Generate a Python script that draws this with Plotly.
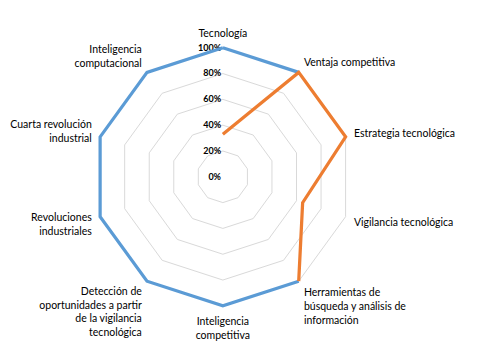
import plotly.graph_objects as go

categories = [
    "Tecnología",
    "Ventaja competitiva",
    "Estrategia tecnológica",
    "Vigilancia tecnológica",
    "Herramientas de<br>búsqueda y análisis de<br>información",
    "Inteligencia<br>competitiva",
    "Detección de<br>oportunidades a partir<br>de la vigilancia<br>tecnológica",
    "Revoluciones<br>industriales",
    "Cuarta revolución<br>industrial",
    "Inteligencia<br>computacional",
]
serie_azul = [100, 100, None, None, 100, 100, 100, 100, 100, 100]
serie_naranja = [33, 100, 100, 65, 100, None, None, None, None, None]
tick_vals = [0, 20, 40, 60, 80, 100]
tick_text = ["0%", "20%", "40%", "60%", "80%", "100%"]

theta = categories + [categories[0]]
fig = go.Figure()
fig.add_trace(go.Scatterpolar(
    r=serie_azul + [serie_azul[0]], theta=theta, mode="lines", cliponaxis=False,
    line=dict(color="#5B9BD5", width=3.25), connectgaps=False, showlegend=False))
fig.add_trace(go.Scatterpolar(
    r=serie_naranja + [serie_naranja[0]], theta=theta, mode="lines", cliponaxis=False,
    line=dict(color="#ED7D31", width=3.25), connectgaps=False, showlegend=False))

fig.update_layout(
    width=478, height=358,
    margin=dict(l=0, r=0, t=0, b=0),
    paper_bgcolor="white",
    font=dict(family="Lato, sans-serif", size=10.5, color="#000000"),
    polar=dict(
        domain=dict(x=[0.1722, 0.7268], y=[0.159, 0.898]),
        bgcolor="white",
        gridshape="linear",
        radialaxis=dict(
            range=[0, 102.5], tickvals=tick_vals, ticktext=tick_text,
            angle=90, tickangle=90, side="counterclockwise", showline=False, ticks="",
            gridcolor="#D9D9D9", gridwidth=1,
            tickfont=dict(size=9, family="Lato, sans-serif", weight="bold"),
            layer="below traces",
        ),
        angularaxis=dict(
            direction="clockwise", rotation=90, showgrid=False,
            showline=False, ticks="outside", ticklen=3, tickcolor="rgba(0,0,0,0)",
            categoryorder="array", categoryarray=categories,
            tickfont=dict(size=10.5),
            layer="below traces",
        ),
    ),
)
fig.write_html("out.html")
